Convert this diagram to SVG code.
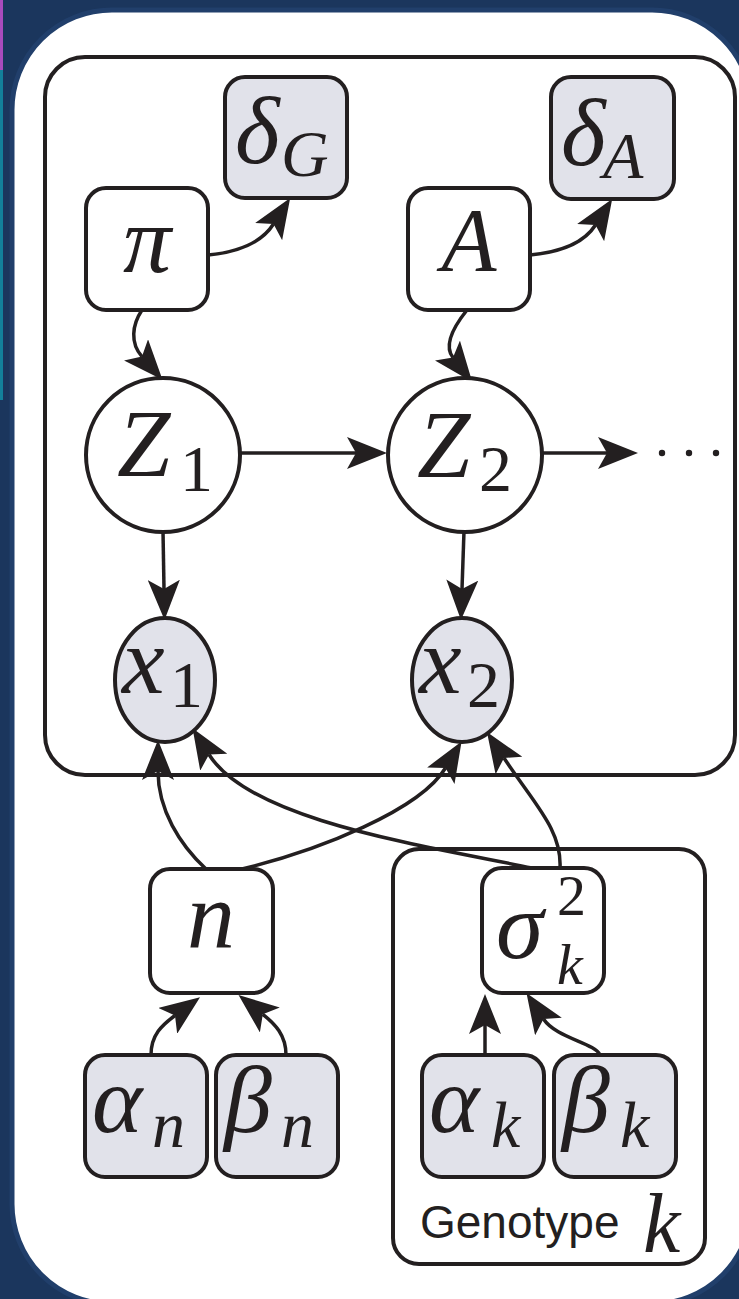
<svg xmlns="http://www.w3.org/2000/svg" width="739" height="1299" viewBox="0 0 739 1299">
<style>
.bg{fill:#1b365d}
.panel{fill:#ffffff;stroke:#213f6b;stroke-width:5}
.plate{fill:none;stroke:#231f20;stroke-width:4}
.box{fill:#ffffff;stroke:#231f20;stroke-width:4}
.obs{fill:#e1e2ea;stroke:#231f20;stroke-width:4}
.edge{fill:none;stroke:#231f20;stroke-width:3.5;marker-end:url(#arr)}
.m{font-family:"Liberation Serif","DejaVu Serif",serif;font-style:italic;fill:#231f20}
.d{font-family:"Liberation Serif","DejaVu Serif",serif;font-style:normal;fill:#231f20}
.big{font-size:96px}
.sub{font-size:66px}
.lbl{font-family:"Liberation Sans",Arial,sans-serif;font-size:46px;fill:#231f20}
</style>
<defs>
<marker id="arr" markerUnits="userSpaceOnUse" viewBox="0 0 40 32" markerWidth="40" markerHeight="32" refX="9" refY="16" orient="auto">
<path d="M0,0 L40,16 L0,32 L9,16 Z" fill="#231f20"/>
</marker>
</defs>
<rect class="bg" x="0" y="0" width="739" height="1299"/>
<rect x="0" y="0" width="3" height="70" fill="#a94bbd"/>
<rect x="0" y="70" width="3" height="330" fill="#13809a"/>
<rect class="panel" x="12" y="10" width="740" height="1294" rx="100" ry="100"/>

<g id="plate-main"><rect class="plate" x="45" y="57" width="690" height="718" rx="40" ry="40"/></g>
<g id="plate-genotype"><rect class="plate" x="393" y="849" width="312" height="415" rx="26" ry="26"/>
<text class="lbl" x="420" y="1238">Genotype</text><text class="m" x="643" y="1252" font-size="84">k</text></g>

<g id="connectors">
<path class="edge" d="M208,255 C240,252 262,242 273.5,224"/>
<path class="edge" d="M530,255 C562,252 584,243 595.5,225"/>
<path class="edge" d="M142,310 C132,325 130,343 142,356.6"/>
<path class="edge" d="M467,310 C455,325 443,345 453,357.6"/>
<path class="edge" d="M240,453 L356,453"/>
<path class="edge" d="M543,453 L607,453"/>
<path class="edge" d="M163,531 L164,589"/>
<path class="edge" d="M464,531 L462,589"/>
<path class="edge" d="M206,869 C180,845 158,810 158,771"/>
<path class="edge" d="M242,869 C320,850 420,810 445.5,768"/>
<path class="edge" d="M532,868 C420,845 250,820 209,754.5"/>
<path class="edge" d="M560,868 C562,830 535,805 504,758"/>
<path class="edge" d="M151,1055 C151,1035 162,1025 175,1015.5"/>
<path class="edge" d="M286,1055 C286,1035 275,1024 262.8,1014.3"/>
<path class="edge" d="M485,1055 L485,1025"/>
<path class="edge" d="M600,1055 C595,1043 556,1038 543.5,1019"/>
<circle cx="662" cy="453" r="3.2" fill="#231f20"/>
<circle cx="689" cy="453" r="3.2" fill="#231f20"/>
<circle cx="716" cy="453" r="3.2" fill="#231f20"/>
</g>

<g id="deltaG"><rect class="obs" x="225" y="77" width="122" height="121" rx="20"/>
<text class="m big" x="235" y="163">δ</text><text class="m sub" x="281" y="176">G</text></g>
<g id="deltaA"><rect class="obs" x="551" y="77" width="123" height="122" rx="20"/>
<text class="m big" x="561" y="165">δ</text><text class="m sub" x="603" y="178">A</text></g>
<g id="pi"><rect class="box" x="86" y="188" width="122" height="122" rx="20"/>
<text class="m big" x="147" y="272" text-anchor="middle">π</text></g>
<g id="A"><rect class="box" x="408" y="188" width="122" height="122" rx="20"/>
<text class="m" x="469" y="271" font-size="90" text-anchor="middle">A</text></g>

<g id="Z1"><circle class="box" cx="163" cy="455" r="77"/>
<text class="m big" x="117" y="476">Z</text><text class="d sub" x="180" y="491">1</text></g>
<g id="Z2"><circle class="box" cx="465" cy="455" r="77"/>
<text class="m big" x="417" y="477">Z</text><text class="d sub" x="479" y="491">2</text></g>

<g id="x1"><ellipse class="obs" cx="165" cy="680" rx="50" ry="62"/>
<text class="m big" x="122" y="693">x</text><text class="d sub" x="170" y="707">1</text></g>
<g id="x2"><ellipse class="obs" cx="462" cy="680" rx="50" ry="62"/>
<text class="m big" x="419" y="693">x</text><text class="d sub" x="467" y="707">2</text></g>

<g id="n"><rect class="box" x="150" y="869" width="123" height="124" rx="20"/>
<text class="m big" x="211" y="948" text-anchor="middle">n</text></g>
<g id="sigma"><rect class="box" x="482" y="868" width="122" height="125" rx="20"/>
<text class="m big" x="496" y="958">σ</text><text class="d" x="557" y="915" font-size="58">2</text><text class="m" x="557" y="984" font-size="58">k</text></g>

<g id="alpha_n"><rect class="obs" x="85" y="1055" width="122" height="122" rx="20"/>
<text class="m big" x="92" y="1132">α</text><text class="m sub" x="152" y="1147">n</text></g>
<g id="beta_n"><rect class="obs" x="216" y="1055" width="122" height="122" rx="20"/>
<text class="m big" x="224" y="1132">β</text><text class="m sub" x="281" y="1147">n</text></g>
<g id="alpha_k"><rect class="obs" x="422" y="1055" width="122" height="122" rx="20"/>
<text class="m big" x="429" y="1132">α</text><text class="m sub" x="491" y="1147">k</text></g>
<g id="beta_k"><rect class="obs" x="554" y="1055" width="122" height="122" rx="20"/>
<text class="m big" x="562" y="1132">β</text><text class="m sub" x="620" y="1147">k</text></g>
</svg>
